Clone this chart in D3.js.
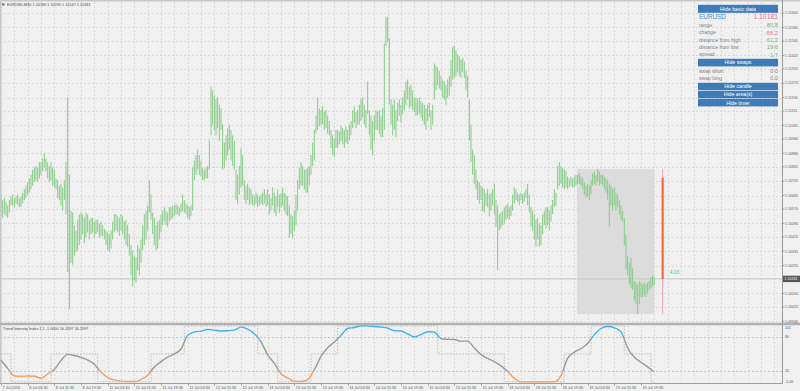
<!DOCTYPE html>
<html>
<head>
<meta charset="utf-8">
<script src="https://cdn.jsdelivr.net/npm/d3@7"></script>
<style>
  body { margin: 0; background: #f0f0f0; }
  svg { display: block; font-family: "Liberation Sans", Arial, sans-serif; }
</style>
</head>
<body>
<script>
// EURUSD M30 bars, first bar 7 Jul 19:30
var highs = [
  1.1065,1.1062,1.1063,1.1061,1.1059,1.1062,1.1064,1.1065,1.1063,1.1064,
  1.1065,1.1063,1.1064,1.1066,1.1068,1.1070,1.1072,1.1074,1.1076,1.1079,
  1.1080,1.1081,1.1080,1.1083,1.1083,1.1085,1.1088,1.1085,1.1083,1.1081,
  1.1083,1.1080,1.1079,1.1074,1.1073,1.1070,1.1071,1.1069,1.1073,1.1083,
  1.1119,1.1076,1.1056,1.1055,1.1048,1.1045,1.1051,1.1054,1.1055,1.1054,
  1.1052,1.1055,1.1054,1.1051,1.1052,1.1052,1.1050,1.1051,1.1051,1.1049,
  1.1050,1.1048,1.1046,1.1045,1.1044,1.1043,1.1045,1.1050,1.1054,1.1054,
  1.1053,1.1052,1.1054,1.1053,1.1050,1.1051,1.1048,1.1043,1.1037,1.1034,
  1.1031,1.1030,1.1037,1.1035,1.1040,1.1048,1.1054,1.1056,1.1059,1.1073,
  1.1065,1.1055,1.1052,1.1048,1.1050,1.1051,1.1054,1.1056,1.1058,1.1056,
  1.1055,1.1058,1.1058,1.1059,1.1059,1.1060,1.1059,1.1058,1.1060,1.1065,
  1.1062,1.1060,1.1059,1.1058,1.1059,1.1080,1.1084,1.1087,1.1090,1.1087,
  1.1084,1.1080,1.1079,1.1080,1.1081,1.1095,1.1125,1.1123,1.1120,1.1118,
  1.1119,1.1115,1.1113,1.1104,1.1094,1.1098,1.1102,1.1104,1.1101,1.1098,
  1.1095,1.1079,1.1076,1.1081,1.1091,1.1087,1.1073,1.1070,1.1071,1.1069,
  1.1068,1.1065,1.1064,1.1066,1.1065,1.1064,1.1065,1.1066,1.1068,1.1065,
  1.1068,1.1065,1.1063,1.1069,1.1066,1.1064,1.1068,1.1065,1.1066,1.1069,
  1.1066,1.1065,1.1064,1.1059,1.1054,1.1053,1.1056,1.1065,1.1073,1.1080,
  1.1083,1.1081,1.1079,1.1079,1.1080,1.1081,1.1087,1.1094,1.1101,1.1109,
  1.1119,1.1113,1.1112,1.1114,1.1111,1.1112,1.1109,1.1106,1.1101,1.1098,
  1.1096,1.1101,1.1101,1.1100,1.1103,1.1102,1.1101,1.1103,1.1101,1.1104,
  1.1106,1.1112,1.1114,1.1111,1.1112,1.1115,1.1118,1.1119,1.1115,1.1112,
  1.1128,1.1112,1.1109,1.1106,1.1109,1.1112,1.1111,1.1112,1.1109,1.1113,
  1.1149,1.1164,1.1164,1.1152,1.1118,1.1115,1.1118,1.1112,1.1116,1.1118,
  1.1115,1.1119,1.1123,1.1128,1.1129,1.1125,1.1126,1.1123,1.1119,1.1119,
  1.1118,1.1119,1.1117,1.1116,1.1115,1.1113,1.1115,1.1116,1.1112,1.1115,
  1.1138,1.1137,1.1136,1.1134,1.1131,1.1129,1.1128,1.1126,1.1129,1.1131,
  1.1140,1.1147,1.1148,1.1145,1.1143,1.1142,1.1140,1.1141,1.1139,1.1134,
  1.1131,1.1118,1.1104,1.1090,1.1087,1.1079,1.1073,1.1072,1.1070,1.1069,
  1.1068,1.1066,1.1068,1.1065,1.1066,1.1068,1.1071,1.1062,1.1059,1.1054,
  1.1055,1.1056,1.1058,1.1059,1.1060,1.1058,1.1059,1.1065,1.1069,1.1068,
  1.1066,1.1065,1.1066,1.1065,1.1066,1.1068,1.1071,1.1065,1.1058,1.1056,
  1.1054,1.1051,1.1052,1.1049,1.1048,1.1054,1.1056,1.1058,1.1058,1.1056,
  1.1059,1.1062,1.1068,1.1066,1.1081,1.1083,1.1081,1.1080,1.1079,1.1078,
  1.1075,1.1074,1.1075,1.1074,1.1075,1.1076,1.1076,1.1077,1.1075,1.1074,
  1.1072,1.1070,1.1071,1.1070,1.1073,1.1077,1.1078,1.1076,1.10793,1.1078,
  1.1076,1.1076,1.1075,1.1074,1.1073,1.1071,1.1070,1.1068,1.1069,1.1066,
  1.1065,1.1062,1.1059,1.1056,1.1052,1.1043,1.1031,1.1027,1.1030,1.1024,
  1.1017,1.1016,1.1015,1.1017,1.1016,1.1015,1.1016,1.1015,1.1016,1.1017,
  1.1019,1.1020,1.10190
];
var lows = [
  1.1055,1.1052,1.1054,1.1053,1.1052,1.1055,1.1059,1.1059,1.1058,1.1060,
  1.1059,1.1058,1.1058,1.1060,1.1062,1.1063,1.1065,1.1066,1.1068,1.1070,
  1.1072,1.1073,1.1072,1.1074,1.1076,1.1078,1.1080,1.1078,1.1074,1.1072,
  1.1073,1.1070,1.1069,1.1068,1.1063,1.1062,1.1059,1.1056,1.1062,1.1054,
  1.1022,1.1001,1.1027,1.1026,1.1031,1.1033,1.1034,1.1037,1.1040,1.1043,
  1.1038,1.1041,1.1044,1.1040,1.1043,1.1044,1.1041,1.1043,1.1044,1.1041,
  1.1042,1.1042,1.1040,1.1037,1.1034,1.1033,1.1035,1.1040,1.1044,1.1045,
  1.1044,1.1042,1.1045,1.1043,1.1040,1.1037,1.1036,1.1031,1.1020,1.1014,
  1.1017,1.1016,1.1023,1.1020,1.1027,1.1034,1.1037,1.1040,1.1045,1.1055,
  1.1051,1.1043,1.1037,1.1034,1.1035,1.1040,1.1044,1.1048,1.1050,1.1048,
  1.1047,1.1050,1.1051,1.1052,1.1053,1.1054,1.1054,1.1053,1.1055,1.1056,
  1.1055,1.1054,1.1052,1.1051,1.1053,1.1056,1.1073,1.1076,1.1079,1.1076,
  1.1075,1.1073,1.1073,1.1074,1.1074,1.1079,1.1098,1.1104,1.1101,1.1098,
  1.1102,1.1095,1.1101,1.1079,1.1080,1.1084,1.1087,1.1090,1.1084,1.1081,
  1.1079,1.1062,1.1060,1.1065,1.1069,1.1070,1.1062,1.1060,1.1062,1.1059,
  1.1060,1.1059,1.1059,1.1060,1.1058,1.1059,1.1060,1.1059,1.1060,1.1058,
  1.1059,1.1054,1.1056,1.1059,1.1055,1.1053,1.1058,1.1055,1.1058,1.1059,
  1.1056,1.1054,1.1053,1.1041,1.1043,1.1041,1.1045,1.1048,1.1056,1.1068,
  1.1070,1.1070,1.1068,1.1066,1.1066,1.1070,1.1076,1.1081,1.1084,1.1099,
  1.1101,1.1103,1.1104,1.1104,1.1101,1.1102,1.1099,1.1098,1.1091,1.1087,
  1.1086,1.1091,1.1091,1.1093,1.1095,1.1093,1.1091,1.1094,1.1093,1.1095,
  1.1098,1.1102,1.1105,1.1102,1.1104,1.1104,1.1106,1.1108,1.1104,1.1102,
  1.1110,1.1098,1.1090,1.1087,1.1095,1.1101,1.1101,1.1099,1.1097,1.1097,
  1.1101,1.1148,1.1150,1.1115,1.1104,1.1098,1.1101,1.1097,1.1106,1.1109,
  1.1105,1.1110,1.1112,1.1115,1.1118,1.1113,1.1114,1.1112,1.1111,1.1109,
  1.1109,1.1110,1.1108,1.1106,1.1104,1.1101,1.1106,1.1108,1.1101,1.1104,
  1.1118,1.1123,1.1126,1.1124,1.1123,1.1119,1.1118,1.1115,1.1119,1.1120,
  1.1125,1.1129,1.1130,1.1131,1.1133,1.1131,1.1130,1.1133,1.1130,1.1123,
  1.1119,1.1095,1.1083,1.1076,1.1071,1.1068,1.1062,1.1060,1.1062,1.1056,
  1.1055,1.1059,1.1058,1.1053,1.1056,1.1059,1.1054,1.1047,1.1023,1.1045,
  1.1046,1.1048,1.1049,1.1051,1.1052,1.1051,1.1053,1.1056,1.1060,1.1062,
  1.1061,1.1059,1.1062,1.1060,1.1061,1.1063,1.1059,1.1055,1.1047,1.1045,
  1.1040,1.1036,1.1040,1.1036,1.1037,1.1043,1.1048,1.1046,1.1048,1.1045,
  1.1050,1.1054,1.1058,1.1059,1.1068,1.1070,1.1071,1.1069,1.1068,1.1069,
  1.1068,1.1069,1.1070,1.1069,1.1069,1.1070,1.1071,1.1071,1.1070,1.1068,
  1.1065,1.1063,1.1064,1.1062,1.1065,1.1070,1.1071,1.1070,1.1072,1.1070,
  1.1071,1.1070,1.1068,1.1066,1.1062,1.1047,1.1059,1.1056,1.1059,1.1056,
  1.1058,1.1054,1.1051,1.1050,1.1037,1.1023,1.1020,1.1015,1.1013,1.1012,
  1.1006,1.1004,1.09985,1.1004,1.1008,1.1008,1.1009,1.1008,1.1010,1.1012,
  1.1013,1.1014,1.10147
];

// Trend Intensity Index, one reading every 4 bars
var tiiEvery = 4;
var tii = [
  39,24,10.5,10,10.5,10,6.4,14,22,38,
  49,47,43.6,39,31.4,17.4,7.6,3.5,1.2,0.6,
  0.6,4,11.6,26.7,36,44,50,58.7,83,89,
  90.7,93.6,92.4,90.7,91.3,92.4,97.7,94.2,86,71.5,
  48.3,33,14.5,7,1.2,0.6,4,21.5,45.3,61,
  71,83,95.3,97,100,100,98.8,97.7,96,91.3,
  90.7,85.5,80.2,84.3,89.5,89,77.3,76,75.6,72.7,
  72.7,60.5,48.8,41.9,36,28.5,18.6,6.4,0,0,
  0,0,0,0,11,41.9,53,59.3,68.6,84.3,
  95.3,98.8,96.5,89.5,60.5,44,35,26.7,17.4
];
var tiiSignal = [
  50,50,0,0,0,0,0,0,50,50,
  50,50,50,50,50,0,0,0,0,0,
  0,0,0,50,50,50,50,50,100,100,
  100,100,100,100,100,100,100,100,100,50,
  50,50,0,0,0,0,0,50,50,50,
  50,100,100,100,100,100,100,100,100,100,
  100,100,100,100,100,100,50,50,50,50,
  50,50,50,50,50,50,0,0,0,0,
  0,0,0,0,0,50,50,50,50,100,
  100,100,100,100,50,50,50,50,0
];
var tiiLevels = [80, 20];
var tiiScaleLabels = ["101", "80", "20", "-1.00"];
var tiiScaleValues = [101, 80, 20, -1];

var timeLabels = [
  "7 Jul 2016", "8 Jul 03:30", "8 Jul 11:30", "8 Jul 19:30",
  "11 Jul 03:30", "11 Jul 11:30", "11 Jul 19:30",
  "12 Jul 03:30", "12 Jul 11:30", "12 Jul 19:30",
  "13 Jul 03:30", "13 Jul 11:30", "13 Jul 19:30",
  "14 Jul 03:30", "14 Jul 11:30", "14 Jul 19:30",
  "15 Jul 03:30", "15 Jul 11:30", "15 Jul 19:30",
  "18 Jul 03:30", "18 Jul 11:30", "18 Jul 19:30",
  "19 Jul 03:30", "19 Jul 11:30", "19 Jul 19:30"
];
var barsPerLabel = 16;
var barsPerGrid = 8;

var priceTicks = [1.11660, 1.11580, 1.11505, 1.11425, 1.11350, 1.11270, 1.11190,
  1.11115, 1.11035, 1.10960, 1.10880, 1.10805, 1.10725, 1.10645, 1.10570,
  1.10490, 1.10415, 1.10335, 1.10255, 1.10100, 1.10025, 1.09945];

// today's (19 Jul) candle, starts at bar 345
var dayStartBar = 345;
var dayCandle = { open: 1.10743, high: 1.10793, low: 1.09985, close: 1.10181 };
var lastQuote = { symbol: "EURUSD,M30", open: 1.10180, high: 1.10190, low: 1.10147, close: 1.10181 };
var spread = 1.7;
var swapLabels = ["swap short", "swap long"];
var swapValues = [0.0, 0.0];
var timerText = "4.03";

var W = 800, H = 391;
var axisX = 782.5;
var green = "#6cbf6c", pink = "#e8759a", blue = "#3fb2ee", orange = "#f5a05c";

var svg = d3.select("body").append("svg")
    .attr("width", W)
    .attr("height", H);

var x = d3.scaleLinear().domain([0, 392]).range([1, 654.3]);
var y = d3.scaleLinear().domain([1.09945, 1.11660]).range([321.3, 13.1]);
var yI = d3.scaleLinear().domain([-1, 101]).range([382.4, 325.3]);

svg.append("rect").attr("width", W).attr("height", H).attr("fill", "#f0f0f0");

// day area behind everything
svg.append("rect")
    .attr("x", x(dayStartBar) + 1)
    .attr("y", y(dayCandle.high))
    .attr("width", x(highs.length - 1) - x(dayStartBar) - 1)
    .attr("height", y(dayCandle.low) - y(dayCandle.high))
    .attr("fill", "#dcdcdc");

// grid
var gridBars = d3.range(0, 470, barsPerGrid).filter(b => x(b) < axisX);
var grid = svg.append("g")
    .attr("stroke", "#d9d9d9")
    .attr("stroke-dasharray", "2,2")
    .attr("shape-rendering", "crispEdges");
grid.selectAll(".vg")
    .data(gridBars)
    .enter().append("line")
    .attr("x1", d => Math.round(x(d)) + 0.5)
    .attr("x2", d => Math.round(x(d)) + 0.5)
    .attr("y1", 2).attr("y2", 322);
grid.selectAll(".vgi")
    .data(gridBars)
    .enter().append("line")
    .attr("x1", d => Math.round(x(d)) + 0.5)
    .attr("x2", d => Math.round(x(d)) + 0.5)
    .attr("y1", 326).attr("y2", 383);
grid.selectAll(".hg")
    .data(priceTicks)
    .enter().append("line")
    .attr("x1", 0).attr("x2", axisX)
    .attr("y1", d => Math.round(y(d)) + 0.5)
    .attr("y2", d => Math.round(y(d)) + 0.5);
grid.selectAll(".lv")
    .data(tiiLevels)
    .enter().append("line")
    .attr("x1", 0).attr("x2", axisX)
    .attr("y1", d => Math.round(yI(d)) + 0.5)
    .attr("y2", d => Math.round(yI(d)) + 0.5)
    .attr("stroke", "#c4c4c4");

// current price line
svg.append("line")
    .attr("x1", 0).attr("x2", axisX)
    .attr("y1", y(lastQuote.close)).attr("y2", y(lastQuote.close))
    .attr("stroke", "#c6c6c6");

// bars
svg.append("g")
    .attr("stroke", "#86cb86")
    .attr("stroke-width", 1)
    .selectAll("line")
    .data(highs)
    .enter().append("line")
    .attr("x1", (d, i) => x(i))
    .attr("x2", (d, i) => x(i))
    .attr("y1", d => y(d))
    .attr("y2", (d, i) => y(lows[i]));

// day candle to the right of the bars
var cx = x(highs.length - 1 + 5);
svg.append("line")
    .attr("x1", cx).attr("x2", cx)
    .attr("y1", y(dayCandle.high)).attr("y2", y(dayCandle.low))
    .attr("stroke", "#f3a3c6").attr("stroke-width", 1);
svg.append("line")
    .attr("x1", cx).attr("x2", cx)
    .attr("y1", y(dayCandle.open)).attr("y2", y(dayCandle.close))
    .attr("stroke", "#f5602a").attr("stroke-width", 2);
svg.append("text")
    .attr("x", cx + 7).attr("y", y(dayCandle.close) - 4.5)
    .attr("font-size", "5px").attr("fill", green)
    .text(timerText);

// frame
svg.append("rect").attr("x", 0).attr("y", 0).attr("width", W).attr("height", 1.5).attr("fill", "#c8c8c8");
svg.append("rect").attr("x", 0).attr("y", 0).attr("width", 1.5).attr("height", 383).attr("fill", "#c8c8c8");
svg.append("rect").attr("x", 0).attr("y", 322.8).attr("width", W).attr("height", 2.4).attr("fill", "#b0b0b0");
svg.append("line").attr("x1", 0).attr("x2", axisX).attr("y1", 383.5).attr("y2", 383.5).attr("stroke", "#a0a0a0");
svg.append("line").attr("x1", axisX).attr("x2", axisX).attr("y1", 0).attr("y2", 383.5).attr("stroke", "#9a9a9a");

// price axis
var pAxis = svg.append("g").attr("font-size", "3.6px").attr("fill", "#5a5a5a");
pAxis.selectAll("text")
    .data(priceTicks)
    .enter().append("text")
    .attr("x", 785).attr("y", d => y(d) + 1.3)
    .text(d => d.toFixed(5));
pAxis.selectAll("line")
    .data(priceTicks)
    .enter().append("line")
    .attr("x1", axisX).attr("x2", axisX + 2)
    .attr("y1", d => y(d)).attr("y2", d => y(d))
    .attr("stroke", "#9a9a9a");
svg.append("rect")
    .attr("x", 783).attr("y", y(lastQuote.close) - 3.2)
    .attr("width", 17).attr("height", 6.4)
    .attr("fill", "#555");
svg.append("text")
    .attr("x", 784.5).attr("y", y(lastQuote.close) + 1.3)
    .attr("font-size", "3.6px").attr("fill", "#fff")
    .text(lastQuote.close.toFixed(5));

// time axis
var tAxis = svg.append("g").attr("font-size", "3.8px").attr("fill", "#5a5a5a");
tAxis.selectAll("text")
    .data(timeLabels)
    .enter().append("text")
    .attr("x", (d, i) => x(i * barsPerLabel) + 1.5)
    .attr("y", 389.3)
    .text(d => d);
tAxis.selectAll("line")
    .data(timeLabels)
    .enter().append("line")
    .attr("x1", (d, i) => Math.round(x(i * barsPerLabel)) + 0.5)
    .attr("x2", (d, i) => Math.round(x(i * barsPerLabel)) + 0.5)
    .attr("y1", 383.5).attr("y2", 385.5)
    .attr("stroke", "#a0a0a0");

// titles
svg.append("rect").attr("x", 2).attr("y", 3.4).attr("width", 2.4).attr("height", 2).attr("fill", "#666");
svg.append("text")
    .attr("x", 7).attr("y", 5.9)
    .attr("font-size", "3.8px").attr("fill", "#4a4a4a")
    .text(lastQuote.symbol + "  " + [lastQuote.open, lastQuote.high, lastQuote.low, lastQuote.close].map(v => v.toFixed(5)).join(" "));
svg.append("text")
    .attr("x", 3).attr("y", 329.8)
    .attr("font-size", "3.8px").attr("fill", "#4a4a4a")
    .text("Trend Intensity Index 1.1 -1.0000 16.2097 16.2097");

// TII indicator
var defs = svg.append("defs");
var grad = defs.append("linearGradient")
    .attr("id", "tiiGrad")
    .attr("gradientUnits", "userSpaceOnUse")
    .attr("x1", 0).attr("x2", 0)
    .attr("y1", yI(101)).attr("y2", yI(-1));
var f80 = (yI(80) - yI(101)) / (yI(-1) - yI(101));
var f20 = (yI(20) - yI(101)) / (yI(-1) - yI(101));
[[0, blue], [f80, blue], [f80, "#9a9a9a"], [f20, "#9a9a9a"], [f20, orange], [1, orange]]
    .forEach(s => grad.append("stop").attr("offset", s[0]).attr("stop-color", s[1]));

var sigLine = d3.line()
    .x((d, i) => x(i * tiiEvery))
    .y(d => yI(d))
    .curve(d3.curveStep);
svg.append("path")
    .attr("d", sigLine(tiiSignal))
    .attr("fill", "none")
    .attr("stroke", "#b0b0b0")
    .attr("stroke-dasharray", "1.5,1.5")
    .attr("stroke-width", 0.8);

var tiiLine = d3.line()
    .x((d, i) => x(i * tiiEvery))
    .y(d => yI(d))
    .curve(d3.curveMonotoneX);
svg.append("path")
    .attr("d", tiiLine(tii))
    .attr("fill", "none")
    .attr("stroke", "url(#tiiGrad)")
    .attr("stroke-width", 1.4);

var iAxis = svg.append("g").attr("font-size", "3.6px").attr("fill", "#5a5a5a");
iAxis.selectAll("text")
    .data(tiiScaleValues)
    .enter().append("text")
    .attr("x", 785)
    .attr("y", d => Math.min(Math.max(yI(d), 327.5), 381.5) + 1.3)
    .text((d, i) => tiiScaleLabels[i]);

// info panel
var panel = svg.append("g");
var btnX = 698, btnW = 80;
function button(label, top, h) {
    panel.append("rect")
        .attr("x", btnX).attr("y", top)
        .attr("width", btnW).attr("height", h)
        .attr("fill", "#3f7bb8");
    panel.append("text")
        .attr("x", btnX + btnW / 2).attr("y", top + h / 2 + 1.8)
        .attr("text-anchor", "middle")
        .attr("font-size", "5.2px").attr("fill", "#fff")
        .text(label);
}
button("Hide basic data", 4.8, 8);
panel.append("text")
    .attr("x", 699).attr("y", 19)
    .attr("font-size", "6.4px").attr("fill", "#4a88c9")
    .text(lastQuote.symbol.split(",")[0]);
panel.append("text")
    .attr("x", 778).attr("y", 19.2)
    .attr("text-anchor", "end")
    .attr("font-size", "6.8px").attr("fill", pink)
    .text(dayCandle.close.toFixed(5));

var infoLabels = ["range", "change", "distance from high", "distance from low", "spread"];
var infoValues = [
    (dayCandle.high - dayCandle.low) * 1e4,
    (dayCandle.close - dayCandle.open) * 1e4,
    (dayCandle.high - dayCandle.close) * 1e4,
    (dayCandle.close - dayCandle.low) * 1e4,
    spread
];
infoLabels.forEach(function (lab, i) {
    var by = 26.8 + i * 7.4;
    panel.append("text")
        .attr("x", 699).attr("y", by)
        .attr("font-size", "5.1px").attr("fill", "#808080")
        .text(lab);
    panel.append("text")
        .attr("x", 778).attr("y", by + 0.3)
        .attr("text-anchor", "end")
        .attr("font-size", "5.8px")
        .attr("fill", infoValues[i] < 0 ? pink : green)
        .text(infoValues[i].toFixed(1));
});
button("Hide swaps", 58.8, 7.6);
swapLabels.forEach(function (lab, i) {
    var by = 72.5 + i * 7.6;
    panel.append("text")
        .attr("x", 699).attr("y", by)
        .attr("font-size", "5.1px").attr("fill", "#808080")
        .text(lab);
    panel.append("text")
        .attr("x", 778).attr("y", by + 0.3)
        .attr("text-anchor", "end")
        .attr("font-size", "5.8px").attr("fill", "#8a8a8a")
        .text(swapValues[i].toFixed(1));
});
button("Hide candle", 82.8, 7.4);
button("Hide area(s)", 90.9, 7.4);
button("Hide timer", 99, 7.4);
</script>
</body>
</html>
